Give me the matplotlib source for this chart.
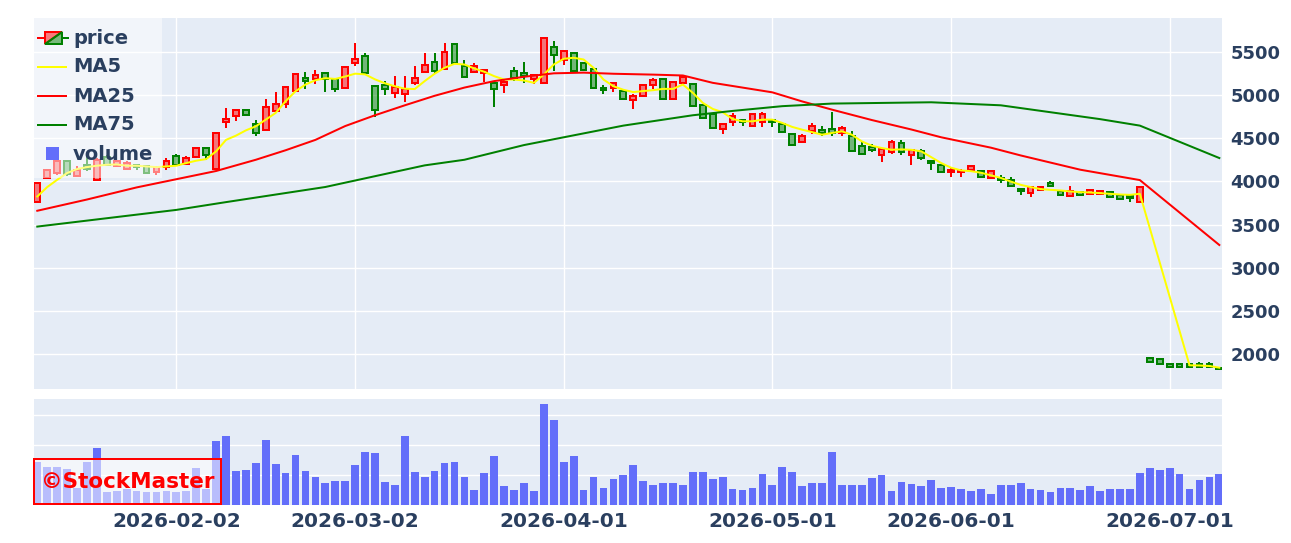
import numpy as np
import pandas as pd
import matplotlib
matplotlib.use("Agg")
import matplotlib.pyplot as plt
from matplotlib.patches import Rectangle, Polygon

# ---------------- data ----------------
jp_holidays = ["2026-02-11", "2026-02-23", "2026-03-20", "2026-04-29",
               "2026-05-04", "2026-05-05", "2026-05-06"]
dates = pd.bdate_range("2026-01-13", "2026-07-08", freq="C", holidays=jp_holidays)

open_ = [3760, 4040, 4100, 4240, 4065, 4190, 4020, 4285, 4180, 4145,
         4190, 4175, 4105, 4165, 4290, 4205, 4280, 4385, 4140, 4690,
         4762, 4830, 4665, 4600, 4810, 4890, 5045, 5200, 5180, 5255,
         5180, 5085, 5375, 5455, 5100, 5120, 5025, 5005, 5135, 5265,
         5380, 5295, 5585, 5330, 5260, 5250, 5140, 5110, 5275, 5255,
         5187, 5135, 5560, 5402, 5480, 5365, 5295, 5082, 5082, 5045,
         4940, 4986, 5110, 5185, 4955, 5141, 5132, 4888, 4785, 4606,
         4683, 4714, 4637, 4683, 4706, 4668, 4552, 4452, 4580, 4598,
         4606, 4560, 4522, 4405, 4397, 4308, 4335, 4444, 4308, 4347,
         4231, 4192, 4103, 4105, 4134, 4115, 4038, 4038, 4018, 3914,
         3871, 3895, 3980, 3891, 3825, 3876, 3856, 3858, 3876, 3845,
         3825, 3760, 1960, 1950, 1892, 1885, 1890, 1892, 1885, 1845]
high = [3995, 4145, 4250, 4250, 4180, 4290, 4265, 4300, 4240, 4240,
        4200, 4185, 4175, 4275, 4320, 4290, 4395, 4395, 4575, 4850,
        4840, 4840, 4715, 4955, 5035, 5100, 5250, 5270, 5290, 5265,
        5190, 5330, 5595, 5480, 5110, 5160, 5215, 5215, 5330, 5480,
        5490, 5595, 5595, 5400, 5372, 5300, 5150, 5180, 5318, 5380,
        5245, 5675, 5625, 5515, 5485, 5370, 5300, 5110, 5150, 5055,
        5016, 5130, 5198, 5195, 5155, 5225, 5140, 4895, 4790, 4675,
        4792, 4720, 4790, 4800, 4710, 4680, 4560, 4545, 4675, 4637,
        4800, 4640, 4580, 4450, 4436, 4385, 4482, 4475, 4375, 4370,
        4235, 4200, 4154, 4140, 4190, 4120, 4120, 4076, 4050, 3920,
        3940, 3940, 4010, 3895, 3941, 3880, 3910, 3900, 3885, 3855,
        3830, 3945, 1968, 1955, 1895, 1890, 1895, 1905, 1905, 1855]
low = [3745, 4030, 4075, 4060, 4060, 4120, 4015, 4185, 4170, 4130,
       4135, 4095, 4075, 4135, 4185, 4195, 4270, 4250, 4130, 4620,
       4695, 4755, 4530, 4580, 4790, 4850, 5040, 5070, 5130, 5035,
       5035, 5080, 5340, 5245, 4745, 4995, 4965, 4915, 5110, 5255,
       5255, 5290, 5355, 5200, 5255, 5150, 4862, 5025, 5160, 5140,
       5132, 5130, 5276, 5341, 5270, 5280, 5075, 5005, 5033, 4945,
       4838, 4975, 5070, 4940, 4950, 5135, 4860, 4730, 4615, 4552,
       4637, 4637, 4630, 4630, 4630, 4560, 4405, 4440, 4552, 4520,
       4530, 4530, 4340, 4305, 4335, 4219, 4320, 4310, 4192, 4250,
       4134, 4100, 4050, 4045, 4125, 4040, 4030, 3980, 3930, 3845,
       3817, 3890, 3935, 3840, 3820, 3830, 3850, 3845, 3815, 3780,
       3758, 3750, 1905, 1880, 1845, 1845, 1850, 1852, 1850, 1815]
close = [3980, 4130, 4240, 4080, 4135, 4140, 4250, 4195, 4230, 4210,
         4170, 4100, 4165, 4240, 4195, 4275, 4385, 4300, 4565, 4725,
         4830, 4765, 4555, 4865, 4900, 5095, 5245, 5160, 5225, 5185,
         5065, 5325, 5420, 5250, 4830, 5065, 5095, 5070, 5200, 5350,
         5278, 5495, 5372, 5210, 5330, 5290, 5072, 5150, 5200, 5218,
         5236, 5660, 5458, 5508, 5278, 5288, 5085, 5058, 5140, 4955,
         4985, 5120, 5170, 4948, 5150, 5210, 4870, 4735, 4620, 4668,
         4753, 4688, 4784, 4784, 4685, 4570, 4415, 4529, 4637, 4555,
         4560, 4618, 4350, 4322, 4368, 4374, 4452, 4336, 4366, 4270,
         4215, 4105, 4127, 4125, 4173, 4052, 4115, 4012, 3942, 3885,
         3934, 3934, 3942, 3845, 3883, 3838, 3895, 3890, 3820, 3795,
         3808, 3940, 1912, 1885, 1848, 1850, 1855, 1858, 1855, 1825]
volume = [1.45, 1.26, 1.26, 1.20, 0.58, 1.43, 1.90, 0.44, 0.47, 0.53,
          0.47, 0.42, 0.42, 0.47, 0.42, 0.47, 1.22, 0.53, 2.13, 2.30,
          1.15, 1.18, 1.39, 2.16, 1.37, 1.07, 1.67, 1.15, 0.92, 0.72,
          0.81, 0.81, 1.35, 1.76, 1.73, 0.78, 0.66, 2.30, 1.11, 0.94,
          1.15, 1.40, 1.45, 0.92, 0.49, 1.06, 1.65, 0.64, 0.51, 0.72,
          0.47, 3.36, 2.85, 1.43, 1.65, 0.51, 0.92, 0.58, 0.88, 0.99,
          1.35, 0.81, 0.66, 0.72, 0.73, 0.66, 1.09, 1.09, 0.87, 0.92,
          0.53, 0.51, 0.56, 1.03, 0.66, 1.26, 1.11, 0.64, 0.75, 0.72,
          1.76, 0.66, 0.67, 0.67, 0.89, 1.01, 0.47, 0.78, 0.70, 0.62,
          0.84, 0.57, 0.61, 0.53, 0.47, 0.55, 0.36, 0.66, 0.66, 0.75,
          0.53, 0.51, 0.42, 0.57, 0.57, 0.51, 0.64, 0.46, 0.53, 0.55,
          0.55, 1.06, 1.25, 1.18, 1.22, 1.04, 0.52, 0.84, 0.92, 1.03]
ma5 = [3825, 3934, 4018, 4096, 4142, 4165, 4181, 4192, 4196, 4181,
       4181, 4173, 4165, 4173, 4181, 4212, 4239, 4258, 4347, 4480,
       4529, 4590, 4637, 4714, 4792, 4927, 5043, 5120, 5170, 5194,
       5185, 5213, 5246, 5238, 5180, 5135, 5100, 5072, 5068, 5160,
       5245, 5314, 5360, 5352, 5306, 5268, 5217, 5178, 5178, 5167,
       5140, 5236, 5352, 5418, 5430, 5410, 5314, 5178, 5101, 5060,
       5033, 5045, 5055, 5070, 5070, 5120, 5024, 4908, 4838, 4800,
       4722, 4695, 4695, 4714, 4714, 4676, 4630, 4598, 4570, 4540,
       4560, 4579, 4540, 4463, 4413, 4386, 4366, 4370, 4365, 4347,
       4280, 4212, 4158, 4127, 4118, 4100, 4070, 4040, 3998, 3960,
       3934, 3911, 3902, 3895, 3883, 3876, 3871, 3864, 3856, 3848,
       3844, 3856, None, None, None, None, 1872, 1870, 1864, 1845]
# moving averages read at selected trading-day numbers
ma25 = {0: 3660, 5: 3790, 10: 3930, 14: 4025, 18: 4120, 20: 4185, 22: 4250,
        25: 4360, 28: 4480, 31: 4640, 34: 4765, 37: 4880, 40: 4990, 43: 5085,
        46: 5160, 49: 5210, 52: 5250, 55: 5258, 58: 5245, 62: 5235, 65: 5225,
        68: 5140, 71: 5085, 74: 5030, 77: 4925, 80: 4830, 84: 4710, 88: 4600,
        91: 4510, 96: 4390, 99: 4300, 105: 4135, 111: 4015, 119: 3264}
ma75 = {0: 3477, 10: 3615, 14: 3670, 19: 3760, 29: 3935, 39: 4185, 43: 4250,
        49: 4420, 59: 4645, 66: 4765, 70: 4815, 75: 4870, 80: 4900, 90: 4915,
        97: 4880, 102: 4800, 107: 4720, 111: 4645, 119: 4270}
tick_dates = ["2026-02-02", "2026-03-02", "2026-04-01",
              "2026-05-01", "2026-06-01", "2026-07-01"]
price_ticks = [2000, 2500, 3000, 3500, 4000, 4500, 5000, 5500]
legend_labels = ["price", "MA5", "MA25", "MA75", "volume"]
watermark = "©StockMaster"

# ---------------- style ----------------
W, H = 1291, 543
BG = "#e5ecf6"
FONT_COL = "#2a3f5f"
UP, UP_FILL = "#ff0000", (1.0, 0.0, 0.0, 0.5)
DN, DN_FILL = "#008000", (0.0, 0.5, 0.0, 0.5)
VOL_COL = "#636efa"
LW = 1.44  # 2 px

plt.rcParams["font.family"] = ["DejaVu Sans"]
plt.rcParams["font.weight"] = "bold"

fig = plt.figure(figsize=(W / 100, H / 100), dpi=100)
fig.patch.set_facecolor("white")


def px_axes(l, t, r, b):
    return fig.add_axes([l / W, 1 - b / H, (r - l) / W, (b - t) / H])


ax = px_axes(34, 18, 1222, 389)
axv = px_axes(34, 399, 1222, 505)

n = len(close)
x = np.arange(n)
tick_pos = [dates.get_loc(pd.Timestamp(d)) for d in tick_dates]
xlim = (-0.33, n - 1 + 0.27)

# ---- price panel ----
ax.set_facecolor(BG)
bw = 0.58
for i in range(n):
    o, h, l, c = open_[i], high[i], low[i], close[i]
    up = c >= o
    col, fill = (UP, UP_FILL) if up else (DN, DN_FILL)
    lo_b, hi_b = min(o, c), max(o, c)
    ax.plot([i, i], [hi_b, h], color=col, lw=LW, solid_capstyle="butt", zorder=3)
    ax.plot([i, i], [l, lo_b], color=col, lw=LW, solid_capstyle="butt", zorder=3)
    ax.add_patch(Rectangle((i - bw / 2, lo_b), bw, max(hi_b - lo_b, 1),
                           facecolor=fill, edgecolor=col, lw=LW, zorder=3))

m5 = np.array([np.nan if v is None else v for v in ma5], dtype=float)
ok = ~np.isnan(m5)
ax.plot(x[ok], m5[ok], color="#ffff00", lw=LW, zorder=4)
ax.plot(list(ma25.keys()), list(ma25.values()), color="#ff0000", lw=LW, zorder=4)
ax.plot(list(ma75.keys()), list(ma75.values()), color="#008000", lw=LW, zorder=4)

ax.set_xlim(*xlim)
ax.set_ylim(1598, 5890)
ax.set_xticks(tick_pos)
ax.set_xticklabels([])
ax.set_yticks(price_ticks)
ax.yaxis.tick_right()
ax.tick_params(axis="both", length=0)
ax.tick_params(axis="y", pad=6, labelsize=13, labelcolor=FONT_COL)
for lab in ax.get_yticklabels():
    lab.set_fontweight("bold")
ax.grid(True, color="white", lw=1.0, zorder=0)
ax.set_axisbelow(True)
for s in ax.spines.values():
    s.set_visible(False)

# ---- volume panel ----
axv.set_facecolor(BG)
axv.bar(x, volume, width=0.78, color=VOL_COL, zorder=2)
axv.set_xlim(*xlim)
axv.set_ylim(0, 3.54)
axv.set_yticks([1, 2, 3])
axv.set_yticklabels([])
axv.set_xticks(tick_pos)
axv.set_xticklabels(tick_dates)
axv.tick_params(axis="both", length=0)
axv.tick_params(axis="x", pad=5, labelsize=14.5, labelcolor=FONT_COL)
for lab in axv.get_xticklabels():
    lab.set_fontweight("bold")
axv.grid(True, axis="y", color="white", lw=1.0, zorder=0)
axv.set_axisbelow(True)
for s in axv.spines.values():
    s.set_visible(False)

# ---- overlay (legend + watermark) in pixel coordinates ----
ov = fig.add_axes([0, 0, 1, 1], zorder=10)
ov.set_xlim(0, W)
ov.set_ylim(H, 0)
ov.axis("off")
ov.patch.set_alpha(0)

ov.add_patch(Rectangle((34, 18), 128, 160, facecolor=(1, 1, 1, 0.5), edgecolor="none"))
rows = [38, 67, 96, 125, 154]
# price icon
ov.plot([38, 45], [rows[0], rows[0]], color=UP, lw=LW)
ov.plot([62, 68], [rows[0], rows[0]], color=DN, lw=LW)
ov.add_patch(Polygon([(45, 32), (62, 32), (45, 44)], closed=True,
                     facecolor=UP_FILL, edgecolor=UP, lw=LW))
ov.add_patch(Polygon([(62, 32), (62, 44), (45, 44)], closed=True,
                     facecolor=DN_FILL, edgecolor=DN, lw=LW))
for yy, col in zip(rows[1:4], ["#ffff00", "#ff0000", "#008000"]):
    ov.plot([38, 66], [yy, yy], color=col, lw=LW)
ov.add_patch(Rectangle((46, rows[4] - 7), 13, 13, facecolor=VOL_COL, edgecolor="none"))
for yy, lab in zip(rows, legend_labels):
    ov.text(73, yy, lab, fontsize=14, fontweight="bold", color=FONT_COL,
            va="center", ha="left")

ov.add_patch(Rectangle((34, 459), 187, 45, facecolor=(1, 1, 1, 0.55),
                       edgecolor="#ff0000", lw=LW))
ov.text(127.5, 481.5, watermark, fontsize=15.5, fontweight="bold", color="#ff0000",
        ha="center", va="center")

fig.savefig("out.png", dpi=100)
